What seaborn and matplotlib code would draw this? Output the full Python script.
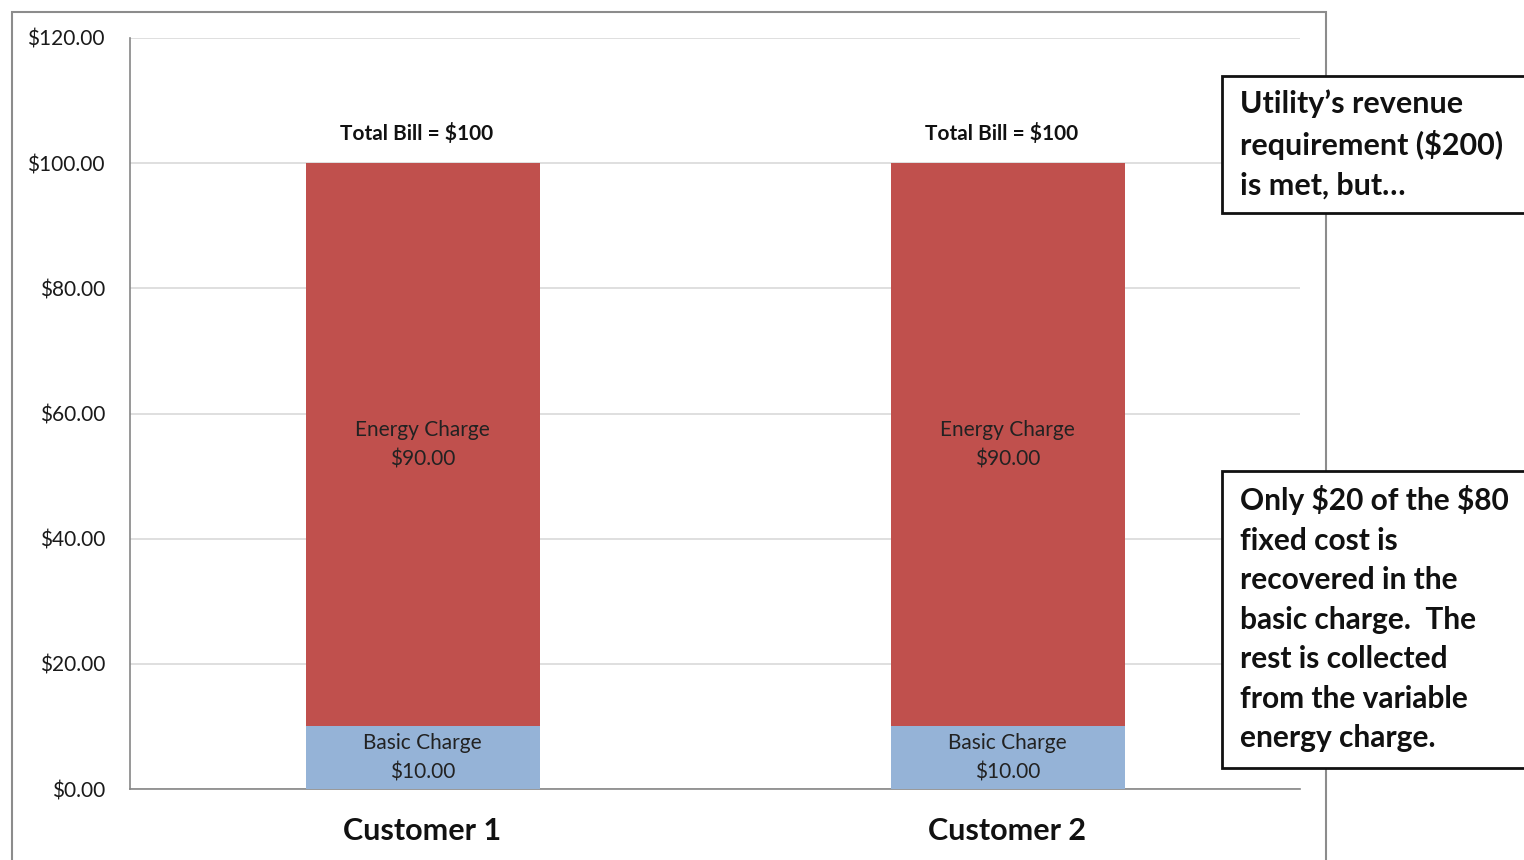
import matplotlib
matplotlib.use("Agg")
import matplotlib.pyplot as plt
from matplotlib.patches import Rectangle
import seaborn as sns
import pandas as pd

customers = ["Customer 1", "Customer 2"]
basic_charge = [10.0, 10.0]
energy_charge = [90.0, 90.0]
total_labels = ["Total Bill = \\$100", "Total Bill = \\$100"]
y_ticks = [0, 20, 40, 60, 80, 100, 120]
box1_text = "Utility\u2019s revenue\nrequirement (\\$200)\nis met, but\u2026"
box2_text = ("Only \\$20 of the \\$80\nfixed cost is\nrecovered in the\nbasic charge.  The\n"
             "rest is collected\nfrom the variable\nenergy charge.")

sns.set_style("white")
plt.rcParams["font.family"] = ["Lato", "DejaVu Sans"]

W, H = 1524, 860
fig = plt.figure(figsize=(W / 100, H / 100), dpi=100)
ax = fig.add_axes([130 / W, (H - 789) / H, (1300 - 130) / W, (789 - 38) / H])

df = pd.DataFrame({
    "customer": customers,
    "basic": basic_charge,
    "energy": energy_charge,
})
df["total"] = df["basic"] + df["energy"]

RED = "#C0504D"
BLUE = "#95B3D7"

sns.barplot(data=df, x="customer", y="total", color=RED, width=0.4,
            saturation=1, ax=ax, zorder=2, linewidth=0)
sns.barplot(data=df, x="customer", y="basic", color=BLUE, width=0.4,
            saturation=1, ax=ax, zorder=3, linewidth=0)

ax.set_xlim(-0.5, 1.5)
ax.set_ylim(0, 120)
ax.set_yticks(y_ticks)
ax.set_yticklabels([f"\\${v:.2f}" for v in y_ticks], fontsize=15, color="#1a1a1a")
ax.yaxis.grid(True, color="#D9D9D9", linewidth=1.2, zorder=0)
ax.set_axisbelow(True)

ax.set_xticks([0, 1])
ax.set_xticklabels(customers, fontsize=22, fontweight="bold", color="#111111")
ax.set_xticks([-0.5, 0.5, 1.5], minor=True)
ax.tick_params(axis="x", which="major", length=0, pad=20)
ax.tick_params(axis="x", which="minor", length=8, color="#868686", width=1.2, direction="out")
ax.tick_params(axis="y", length=8, color="#868686", width=1.2, direction="out", pad=10)
ax.set_xlabel("")
ax.set_ylabel("")

for s in ["top", "right"]:
    ax.spines[s].set_visible(False)
for s in ["left", "bottom"]:
    ax.spines[s].set_color("#868686")
    ax.spines[s].set_linewidth(1.2)

for i in range(len(customers)):
    b = basic_charge[i]
    e = energy_charge[i]
    ax.text(i, b + e / 2, f"Energy Charge\n\\${e:.2f}", ha="center", va="center",
            fontsize=15, color="#222222", linespacing=1.55, zorder=5)
    ax.text(i, b / 2, f"Basic Charge\n\\${b:.2f}", ha="center", va="center",
            fontsize=15, color="#222222", linespacing=1.55, zorder=5)
    ax.text(i - 0.01, b + e + 4.7, total_labels[i], ha="center", va="center",
            fontsize=15, fontweight="bold", color="#111111", zorder=5)

# outer chart border
fig.patches.append(Rectangle((12 / W, -0.05), (1326 - 12) / W, 1.05 - 12 / H,
                             transform=fig.transFigure, fill=False,
                             edgecolor="#8c8c8c", linewidth=1.5, zorder=0))

# annotation boxes
def add_box(left, top, bottom, text, size, first_y):
    fig.patches.append(Rectangle((left / W, (H - bottom) / H), (W + 20 - left) / W,
                                 (bottom - top) / H, transform=fig.transFigure,
                                 facecolor="white", edgecolor="#111111",
                                 linewidth=2, zorder=10))
    fig.text(1240 / W, (H - first_y) / H, text, ha="left", va="top",
             fontsize=size, fontweight="bold", color="#111111",
             linespacing=1.5, zorder=11)

add_box(1222, 76, 213, box1_text, 22, 89)
add_box(1222, 471, 768, box2_text, 21.5, 485)

fig.savefig("out.png", dpi=100)
